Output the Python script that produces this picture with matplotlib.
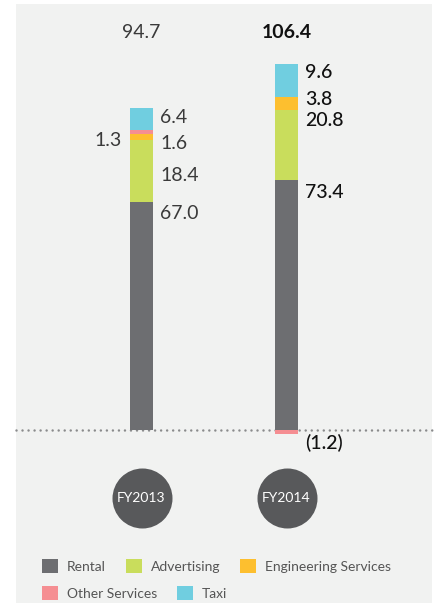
import matplotlib
matplotlib.use("Agg")
from matplotlib import pyplot as plt
from matplotlib.patches import Rectangle, Patch
import numpy as np

# data (S$ million)
years = ["FY2013", "FY2014"]
segments = ["Rental", "Advertising", "Engineering Services", "Other Services", "Taxi"]
rental = [67.0, 73.4]
advertising = [18.4, 20.8]
engineering = [1.6, 3.8]
other = [1.3, -1.2]
taxi = [6.4, 9.6]
totals = [94.7, 106.4]
labels_2013 = ["67.0", "18.4", "1.6", "1.3", "6.4"]
labels_2014 = ["73.4", "20.8", "3.8", "(1.2)", "9.6"]

colors = ["#6d6e71", "#c9dd5c", "#fdbf2f", "#f58e92", "#70cee0"]
bg = "#f1f2f1"

W, H = 438, 610
fig = plt.figure(figsize=(W / 100, H / 100), dpi=100)
fig.patch.set_facecolor("white")
fig.add_artist(Rectangle((16 / W, 1 - 603 / H), 416 / W, 599 / H,
                         transform=fig.transFigure, facecolor=bg,
                         edgecolor="none", zorder=0))

ax = fig.add_axes([0, 0, 1, 1])
ax.set_facecolor("none")
ax.axis("off")

pxu = 3.4          # pixels per unit
base = 430         # baseline pixel from top
xc = [141.5, 286.5]
step = xc[1] - xc[0]
ax.set_xlim(-xc[0] / step, (W - xc[0]) / step)
ax.set_ylim(-(H - base) / pxu, base / pxu)

x = np.arange(len(years))
bw = 23 / step

series = [rental, advertising, engineering, other, taxi]
pos_bottom = np.zeros(len(years))
neg_bottom = np.zeros(len(years))
mids = []
for vals, c in zip(series, colors):
    vals = np.array(vals)
    bottoms = np.where(vals >= 0, pos_bottom, neg_bottom)
    ax.bar(x, vals, bw, bottom=bottoms, color=c, zorder=3, linewidth=0)
    mids.append(bottoms + vals / 2)
    pos_bottom = pos_bottom + np.where(vals >= 0, vals, 0)
    neg_bottom = neg_bottom + np.where(vals < 0, vals, 0)

# dotted zero line
ax.axhline(0, xmin=16 / W, xmax=432 / W, color="#8a8b8c", lw=1.8,
           linestyle=(0, (0.01, 2.4)), dash_capstyle="round", zorder=2)

font = "Lato"
light = "#3a3a3a"
dark = "#111111"
# value labels: (dx, dy) pixel offsets from segment middle
off_2013 = [(18, 103), (18, -5), (18, -7), (-19, -9), (18, 1)]
off_2014 = [(18, 113), (18, 25), (18, 4), (18, -11), (18, 7.5)]
for i in range(len(segments)):
    dx, dy = off_2013[i]
    ax.annotate(labels_2013[i], (x[0] + bw / 2 if dx > 0 else x[0] - bw / 2, mids[i][0]),
                xytext=(dx - 11 if dx > 0 else dx + 11, dy), textcoords="offset pixels",
                ha="left" if dx > 0 else "right", va="center",
                fontsize=14, fontfamily=font, fontweight="normal", color=light)
    dx, dy = off_2014[i]
    ax.annotate(labels_2014[i], (x[1] + bw / 2, mids[i][1]),
                xytext=(dx - 11, dy), textcoords="offset pixels",
                ha="left", va="center",
                fontsize=14, fontfamily=font, fontweight="medium", color=dark)

# totals
tr = ax.get_xaxis_transform()
ax.text(x[0], 1 - 33 / H, f"{totals[0]:.1f}", transform=tr, ha="center", va="center",
        fontsize=14, fontfamily=font, fontweight="normal", color=light)
ax.text(x[1], 1 - 33 / H, f"{totals[1]:.1f}", transform=tr, ha="center", va="center",
        fontsize=14, fontfamily=font, fontweight="bold", color=dark)

# year circles
cy = -(498 - base) / pxu
ax.scatter(x, [cy] * len(x), s=(60 * 0.72) ** 2, color="#58595b", zorder=4, linewidths=0)
for xi, yr in zip(x, years):
    ax.text(xi, cy, yr, ha="center", va="center", color="white",
            fontsize=10, fontfamily=font, zorder=5)

# legend in two rows
handles = [Patch(facecolor=c, edgecolor="none", label=s) for s, c in zip(segments, colors)]
fs = 10
fpx = fs * 100 / 72
common = dict(frameon=False, handlelength=16 / fpx, handleheight=16 / fpx,
              handletextpad=9 / fpx, columnspacing=20 / fpx, borderpad=0,
              borderaxespad=0, loc="center left",
              bbox_transform=fig.transFigure, labelcolor="#555555",
              prop={"family": font, "size": fs})
leg1 = ax.legend(handles=handles[:3], ncol=3, bbox_to_anchor=(42 / W, 1 - 566 / H), **common)
ax.add_artist(leg1)
leg2 = ax.legend(handles=handles[3:], ncol=2, bbox_to_anchor=(42 / W, 1 - 593 / H), **common)

fig.savefig("out.png", dpi=100, facecolor=fig.get_facecolor())
